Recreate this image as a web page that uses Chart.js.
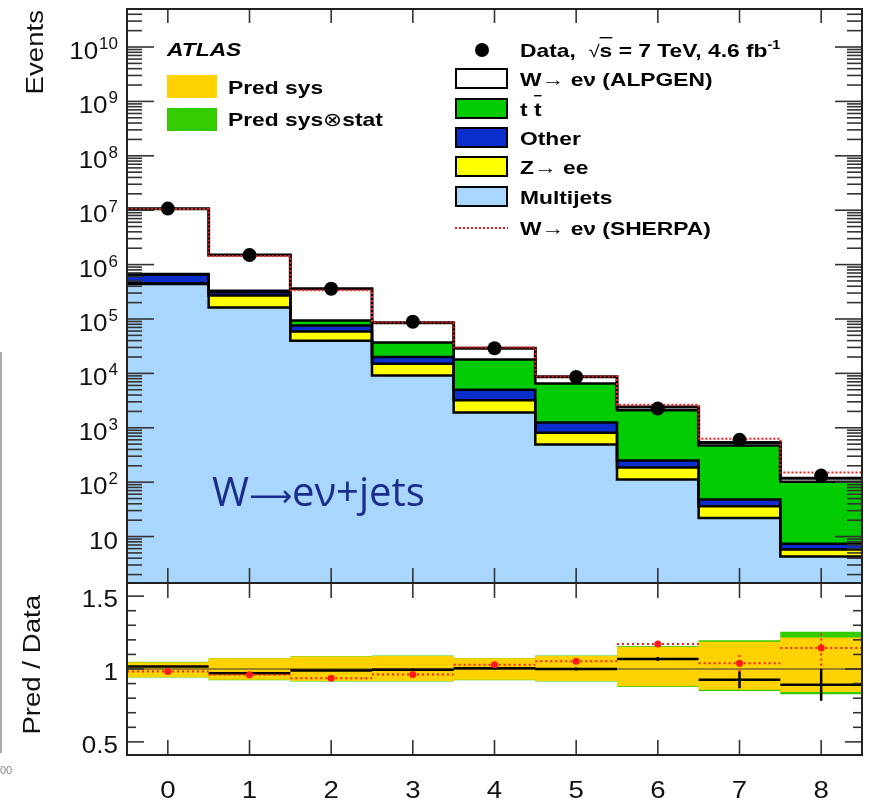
<!DOCTYPE html>
<html>
<head>
<meta charset="utf-8">
<script src="https://cdn.jsdelivr.net/npm/chart.js@4.4.0/dist/chart.umd.min.js"></script>
<style>
  body { margin: 0; background: #fff; width: 870px; height: 805px; position: relative; overflow: hidden; }
  #main { position: absolute; left: 0; top: 0; }
  #ratio { position: absolute; left: 0; top: 575px; }
  #edge { position: absolute; left: 0; top: 352px; width: 2px; height: 401px; background: #aaa; }
</style>
</head>
<body>
<div id="edge"></div>
<canvas id="main" width="870" height="590"></canvas>
<canvas id="ratio" width="870" height="230"></canvas>
<script>
// jet multiplicity bins
const bins = [0, 1, 2, 3, 4, 5, 6, 7, 8];
const binEdges = [-0.5, 0.5, 1.5, 2.5, 3.5, 4.5, 5.5, 6.5, 7.5, 8.5];

// events per bin, one array per process (stacked bottom to top)
const multijets = [4.4e5, 1.63e5, 4.0e4, 9.1e3, 1.9e3, 490, 112, 22, 4.3];
const zee = [1.5e4, 1.07e5, 1.9e4, 5.9e3, 1.3e3, 320, 74, 14, 1.5];
const other = [2.05e5, 4.0e4, 1.7e4, 5.0e3, 1.8e3, 440, 64, 12, 1.6];
const ttbar = [1.0e4, 2.0e4, 1.8e4, 1.7e4, 1.3e4, 5250, 1850, 422, 94.6];
const wenuAlpgen = [1.0e7, 1.17e6, 2.66e5, 4.8e4, 1.1e4, 2200, 300, 65, 16];
const sherpaTotal = [1.05e7, 1.44e6, 3.37e5, 8.6e4, 3.0e4, 8.8e3, 2.65e3, 630, 150];
const dataEvents = [1.07e7, 1.5e6, 3.6e5, 8.9e4, 2.9e4, 8.6e3, 2.25e3, 600, 132];

// ratio panel (pred / data)
const sysLow = [0.944, 0.926, 0.917, 0.917, 0.926, 0.917, 0.881, 0.858, 0.842];
const sysHigh = [1.046, 1.073, 1.085, 1.09, 1.073, 1.09, 1.153, 1.187, 1.216];
const totLow = [0.941, 0.923, 0.914, 0.914, 0.923, 0.914, 0.877, 0.849, 0.827];
const totHigh = [1.049, 1.076, 1.088, 1.093, 1.076, 1.093, 1.157, 1.198, 1.255];
const ratioAlpgen = [1.017, 0.971, 0.99, 0.995, 1.005, 1.0, 1.069, 0.926, 0.892];
const ratioAlpgenErr = [0.002, 0.003, 0.004, 0.006, 0.008, 0.01, 0.014, 0.058, 0.11];
const ratioSherpa = [0.983, 0.96, 0.937, 0.963, 1.03, 1.053, 1.171, 1.04, 1.144];
const ratioSherpaErr = [0.002, 0.003, 0.004, 0.006, 0.008, 0.01, 0.014, 0.06, 0.12];
const unity = [1, 1];

// axis ticks
const xTicks = [0, 1, 2, 3, 4, 5, 6, 7, 8];
const yDecades = [1, 2, 3, 4, 5, 6, 7, 8, 9, 10];
const ratioTicks = [0.5, 1, 1.5];
const ratioTickLabels = ['0.5', '1', '1.5'];
const ratioMinorTicks = [0.6, 0.7, 0.8, 0.9, 1.1, 1.2, 1.3, 1.4];

const FONT = '"Liberation Sans", Arial, sans-serif';
const SX = 1.2; // the ROOT text is a little wider than Liberation Sans

function cumulate(layers) {
    let run = bins.map(() => 0);
    return layers.map(layer => run = run.map((v, i) => v + layer[i]));
}
const [cumMJ, cumZ, cumOther, cumTT, cumW] = cumulate([multijets, zee, other, ttbar, wenuAlpgen]);

function steps(vals) {
    return binEdges.map((x, i) => ({ x: x, y: vals[Math.min(i, vals.length - 1)] }));
}
function binSegments(vals) {
    const pts = [];
    bins.forEach((b, i) => {
        pts.push({ x: b - 0.5, y: vals[i] }, { x: b + 0.5, y: vals[i] }, { x: b + 0.5, y: null });
    });
    return pts;
}
function errorBars(vals, errs) {
    const pts = [];
    bins.forEach((b, i) => {
        pts.push({ x: b, y: vals[i] - errs[i] }, { x: b, y: vals[i] + errs[i] }, { x: b, y: null });
    });
    return pts;
}
function line(ctx, x1, y1, x2, y2) {
    ctx.beginPath();
    ctx.moveTo(x1, y1);
    ctx.lineTo(x2, y2);
    ctx.stroke();
}
// text stretched along its direction
function label(ctx, str, x, y, font, align, sx) {
    ctx.save();
    ctx.font = font;
    ctx.translate(x, y);
    ctx.scale(sx, 1);
    ctx.textAlign = align;
    ctx.fillText(str, 0, 0);
    const w = ctx.measureText(str).width * sx;
    ctx.restore();
    return w;
}
function drawRuns(ctx, x, y, runs, sx) {
    runs.forEach(r => {
        const w = label(ctx, r.text, x, y + (r.dy || 0), r.font, 'left', r.sx || sx);
        if (r.over) ctx.fillRect(x, y - r.over, w, 1.4);
        x += w;
    });
}

function stackLayer(label, vals, color, fill) {
    return {
        label: label,
        data: steps(vals),
        stepped: true,
        fill: fill,
        backgroundColor: color,
        borderColor: '#000',
        borderWidth: 2.5,
        pointRadius: 0
    };
}

const mainAxes = {
    id: 'mainAxes',
    afterDraw(chart) {
        const { ctx, chartArea: a, scales: { x, y } } = chart;
        const ds = chart.data.datasets;
        ctx.save();
        ctx.strokeStyle = '#333';
        ctx.lineWidth = 1.6;
        xTicks.forEach(v => {
            const px = x.getPixelForValue(v);
            line(ctx, px, a.top, px, a.top + 14);
            line(ctx, px, a.bottom, px, a.bottom - 15);
        });
        for (let n = 0; n <= 10; n++) {
            for (let k = 2; k <= 9; k++) {
                const v = k * Math.pow(10, n);
                if (v < y.min || v > y.max) continue;
                const py = y.getPixelForValue(v);
                line(ctx, a.left, py, a.left + 15, py);
                line(ctx, a.right, py, a.right - 15, py);
            }
        }
        ctx.fillStyle = '#111';
        yDecades.forEach(n => {
            const py = y.getPixelForValue(Math.pow(10, n));
            line(ctx, a.left, py, a.left + 27, py);
            line(ctx, a.right, py, a.right - 27, py);
            if (n === 1) {
                label(ctx, '10', 118, py + 12, '23px ' + FONT, 'right', 1.13);
            } else {
                const ew = label(ctx, String(n), 118, py + 2, '17px ' + FONT, 'right', 1.0);
                label(ctx, '10', 117 - ew, py + 12, '23px ' + FONT, 'right', 1.13);
            }
        });
        ctx.lineWidth = 2;
        ctx.strokeStyle = '#222';
        ctx.strokeRect(a.left, a.top, a.right - a.left, a.bottom - a.top);

        // axis title
        ctx.save();
        ctx.translate(43, 10);
        ctx.rotate(-Math.PI / 2);
        label(ctx, 'Events', 0, 0, '23px ' + FONT, 'right', SX);
        ctx.restore();

        // process label
        ctx.fillStyle = '#1b2b8e';
        drawRuns(ctx, 212, 506, [
            { text: 'W', font: '40px "Open Sans", sans-serif' },
            { text: '\u27f6', font: '30px "DejaVu Sans", sans-serif', sx: 1.0 },
            { text: 'e\u03bd+jets', font: '40px "Open Sans", sans-serif' }
        ], 1.0);

        // left legend
        ctx.fillStyle = '#000';
        label(ctx, 'ATLAS', 167, 56, 'italic bold 19px ' + FONT, 'left', SX);
        const B = 'bold 19px ' + FONT;
        const N = '19px ' + FONT;
        ctx.fillStyle = ratioChart.data.datasets[3].backgroundColor;
        ctx.fillRect(167, 75, 50, 23);
        ctx.fillStyle = ratioChart.data.datasets[1].backgroundColor;
        ctx.fillRect(167, 108, 50, 23);
        ctx.fillStyle = '#000';
        drawRuns(ctx, 228, 94, [{ text: 'Pred sys', font: B }], SX);
        drawRuns(ctx, 228, 126, [{ text: 'Pred sys', font: B }, { text: '\u2297', font: N }, { text: 'stat', font: B }], SX);

        // right legend
        const rows = [
            { cy: 79, color: ds[4].backgroundColor, runs: [{ text: 'W', font: B }, { text: '\u2192', font: N }, { text: ' e\u03bd (ALPGEN)', font: B }] },
            { cy: 109, color: ds[3].backgroundColor, runs: [{ text: 't ', font: B }, { text: 't', font: B, over: 21 }] },
            { cy: 138, color: ds[2].backgroundColor, runs: [{ text: 'Other', font: B }] },
            { cy: 167, color: ds[1].backgroundColor, runs: [{ text: 'Z', font: B }, { text: '\u2192', font: N }, { text: ' ee', font: B }] },
            { cy: 197, color: ds[0].backgroundColor, runs: [{ text: 'Multijets', font: B }] }
        ];
        ctx.lineWidth = 2;
        ctx.strokeStyle = '#000';
        rows.forEach(r => {
            ctx.fillStyle = r.color;
            ctx.fillRect(456, r.cy - 10, 51, 19);
            ctx.strokeRect(456, r.cy - 10, 51, 19);
            ctx.fillStyle = '#000';
            drawRuns(ctx, 520, r.cy + 7, r.runs, SX);
        });
        ctx.beginPath();
        ctx.arc(482, 50, 7, 0, Math.PI * 2);
        ctx.fill();
        drawRuns(ctx, 520, 57, [
            { text: 'Data,  ', font: B },
            { text: '\u221a', font: '17px ' + FONT },
            { text: 's', font: B, over: 20 },
            { text: ' = 7 TeV, 4.6 fb', font: B },
            { text: '-1', font: 'bold 12px ' + FONT, dy: -8 }
        ], SX);
        ctx.strokeStyle = ds[5].borderColor;
        ctx.setLineDash([2, 2]);
        line(ctx, 455, 228, 508, 228);
        ctx.setLineDash([]);
        drawRuns(ctx, 520, 235, [{ text: 'W', font: B }, { text: '\u2192', font: N }, { text: ' e\u03bd (SHERPA)', font: B }], SX);
        ctx.restore();
    }
};

const ratioAxes = {
    id: 'ratioAxes',
    afterDraw(chart) {
        const { ctx, chartArea: a, scales: { x, y } } = chart;
        ctx.save();
        ctx.strokeStyle = '#333';
        ctx.lineWidth = 1.6;
        ctx.fillStyle = '#111';
        xTicks.forEach(v => {
            const px = x.getPixelForValue(v);
            line(ctx, px, a.top, px, a.top + 15);
            line(ctx, px, a.bottom, px, a.bottom - 15);
            label(ctx, String(v), px, 223, '23px ' + FONT, 'center', SX);
        });
        ratioMinorTicks.forEach(v => {
            const py = y.getPixelForValue(v);
            line(ctx, a.left, py, a.left + 9, py);
            line(ctx, a.right, py, a.right - 9, py);
        });
        ratioTicks.forEach((v, i) => {
            const py = y.getPixelForValue(v);
            line(ctx, a.left, py, a.left + 17, py);
            line(ctx, a.right, py, a.right - 17, py);
            label(ctx, ratioTickLabels[i], 118, py + 11, '23px ' + FONT, 'right', 1.13);
        });
        ctx.lineWidth = 2;
        ctx.strokeStyle = '#222';
        ctx.strokeRect(a.left, a.top, a.right - a.left, a.bottom - a.top);

        ctx.save();
        ctx.translate(40, 20);
        ctx.rotate(-Math.PI / 2);
        label(ctx, 'Pred / Data', 0, 0, '23px ' + FONT, 'right', SX);
        ctx.restore();

        ctx.fillStyle = '#888';
        label(ctx, '00', 0, 199, '11px ' + FONT, 'left', 1.0);
        ctx.restore();
    }
};

const baseOptions = (yScale, padding) => ({
    responsive: false,
    animation: false,
    layout: { padding: padding },
    plugins: { legend: { display: false }, tooltip: { enabled: false }, filler: { drawTime: 'beforeDatasetsDraw' } },
    scales: {
        x: { type: 'linear', min: -0.5, max: 8.5, display: false },
        y: yScale
    }
});

const ratioChart = new Chart(document.getElementById('ratio'), {
    type: 'line',
    data: {
        datasets: [
            { data: steps(totLow), stepped: true, borderWidth: 0, pointRadius: 0, fill: false, order: 10 },
            { data: steps(totHigh), stepped: true, borderWidth: 0, pointRadius: 0, fill: '-1', backgroundColor: '#33cc00', order: 10 },
            { data: steps(sysLow), stepped: true, borderWidth: 0, pointRadius: 0, fill: false, order: 9 },
            { data: steps(sysHigh), stepped: true, borderWidth: 0, pointRadius: 0, fill: '-1', backgroundColor: '#ffd200', order: 9 },
            { data: [{ x: -0.5, y: unity[0] }, { x: 8.5, y: unity[1] }], borderColor: '#333', borderWidth: 1.2, pointRadius: 0, order: 8 },
            { data: binSegments(ratioAlpgen), borderColor: '#000', borderWidth: 2.5, pointRadius: 0, order: 5 },
            { data: errorBars(ratioAlpgen, ratioAlpgenErr), borderColor: '#000', borderWidth: 2.5, pointRadius: 0, order: 5 },
            { data: binSegments(ratioSherpa), borderColor: '#ff1a1a', borderWidth: 2, borderDash: [2, 3], pointRadius: 0, order: 3 },
            { data: errorBars(ratioSherpa, ratioSherpaErr), borderColor: '#ff1a1a', borderWidth: 2, borderDash: [2, 3], pointRadius: 0, order: 3 },
            { data: bins.map((b, i) => ({ x: b, y: ratioSherpa[i] })), showLine: false, pointRadius: 3.5, pointBorderWidth: 0, pointBackgroundColor: '#ff1a1a', order: 1 }
        ]
    },
    options: baseOptions({ type: 'linear', min: 0.41, max: 1.59, display: false }, { left: 127, right: 8, top: 8, bottom: 50 }),
    plugins: [ratioAxes]
});

const mainChart = new Chart(document.getElementById('main'), {
    type: 'line',
    data: {
        datasets: [
            Object.assign(stackLayer('Multijets', cumMJ, '#a8d6fd', 'start'), { order: 6 }),
            Object.assign(stackLayer('Z\u2192ee', cumZ, '#ffff00', '-1'), { order: 5 }),
            Object.assign(stackLayer('Other', cumOther, '#0b2dcc', '-1'), { order: 4 }),
            Object.assign(stackLayer('ttbar', cumTT, '#00cc00', '-1'), { order: 3 }),
            Object.assign(stackLayer('W\u2192e\u03bd (ALPGEN)', cumW, '#ffffff', '-1'), { order: 2, borderWidth: 3 }),
            { label: 'W\u2192e\u03bd (SHERPA)', data: steps(sherpaTotal), stepped: true, fill: false, borderColor: '#ff1a1a', borderWidth: 2, borderDash: [2, 2], pointRadius: 0, order: 1 },
            { label: 'Data', data: bins.map((b, i) => ({ x: b, y: dataEvents[i] })), showLine: false, pointRadius: 7, pointBorderWidth: 0, pointBackgroundColor: '#000', order: 0 }
        ]
    },
    options: baseOptions({ type: 'logarithmic', min: 1.4, max: 5e10, display: false }, { left: 127, right: 8, top: 9, bottom: 7 }),
    plugins: [mainAxes]
});
</script>
</body>
</html>
